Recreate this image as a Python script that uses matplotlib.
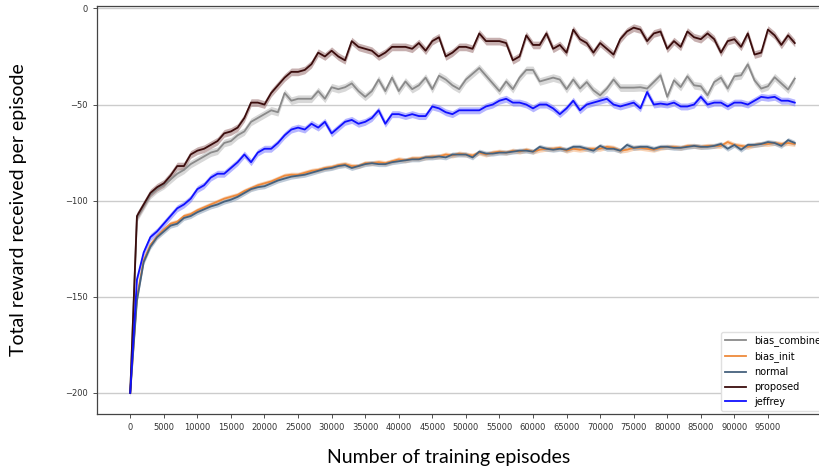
import numpy as np
import matplotlib
matplotlib.use('Agg')
import matplotlib.pyplot as plt

# training episodes, one point every 1000
episodes = np.arange(0, 100000, 1000)

proposed = [-200, -108, -102, -96, -93, -91, -87, -82, -82, -76,
            -74, -73, -71, -69, -65, -64, -62, -57, -49, -49,
            -50, -44, -40, -36, -33, -33, -32, -29, -23, -25,
            -22, -25, -27, -17, -20, -21, -22, -25, -23, -20,
            -20, -20, -21, -18, -22, -17, -15, -25, -23, -20,
            -20, -21, -13, -17, -17, -17, -18, -27, -25, -14,
            -19, -19, -13, -21, -19, -23, -11, -16, -18, -23,
            -18, -21, -24, -16, -12, -10, -11, -17, -13, -12,
            -21, -17, -20, -12, -15, -16, -13, -16, -23, -17,
            -16, -20, -13, -24, -23, -11, -14, -19, -14, -18]

bias_combine = [-200, -109, -103, -97, -94, -92, -89, -86, -84, -81,
                -79, -77, -75, -74, -70, -69, -66, -64, -59, -57,
                -55, -53, -54, -44, -48, -47, -47, -47, -43, -47,
                -41, -42, -41, -39, -43, -46, -43, -37, -43, -36,
                -43, -38, -42, -40, -36, -42, -35, -37, -40, -42,
                -37, -34, -31, -35, -39, -43, -38, -42, -36, -32,
                -32, -38, -37, -36, -37, -42, -37, -41.7, -38.3, -42.6,
                -45.2, -41.7, -37, -41.2, -41.2, -41.2, -41, -41.7, -38.3, -34.8,
                -46, -37.4, -40.9, -35.3, -40, -40.5, -45.2, -38.3, -36, -41.7,
                -35.3, -34.8, -29.1, -37.4, -41.7, -40.5, -35.8, -39, -42.2, -36.5]

jeffrey = [-200, -141, -127, -119, -116, -112, -108, -104, -102, -99,
           -94, -92, -88, -86, -86, -83, -80, -76, -80, -75,
           -73, -73, -70, -66, -63, -62, -63, -60, -62, -59,
           -65, -62, -59, -58, -60, -59, -57, -53, -60, -55,
           -55, -56, -55, -56, -56, -51, -52, -54, -55, -53,
           -53, -53, -53, -51, -50, -48, -47, -49, -49, -50,
           -52, -50, -50, -52, -55, -52, -48, -53, -50, -49,
           -48, -47, -50, -51, -50, -49, -52, -43.5, -50, -49.5,
           -50, -49, -51, -51, -50, -46, -50, -49, -49, -51,
           -49, -49, -50, -48, -46, -46.5, -46, -48, -48, -49]

normal = [-200, -152, -132, -124, -119, -116, -113, -112, -109, -108,
          -106, -104.5, -103, -102, -100.5, -99.5, -98, -96, -94, -93,
          -92.5, -91, -89.5, -88.5, -87.5, -87, -86.5, -85.5, -84.5, -83.5,
          -83, -82, -81.5, -83, -82, -81, -80.5, -81, -81, -80,
          -79.5, -79, -78.5, -78.5, -77.5, -77.5, -77, -77.5, -76, -76,
          -76, -77.5, -74.5, -75.5, -75.5, -75, -75, -74.5, -74, -74,
          -74.5, -72, -73, -73.5, -73, -73.5, -72, -72, -73, -74,
          -71.5, -73, -73, -74, -71, -72.5, -72, -72, -73, -72,
          -72, -72.5, -72.5, -72, -71.5, -72, -72, -71.5, -70.5, -73,
          -71, -73.5, -71, -71, -70.5, -69.5, -70, -71.5, -68.5, -70]

bias_init = [-200, -150, -131, -123, -118.5, -115, -112, -111, -108, -107,
             -105, -103.5, -102, -100.5, -99, -98, -97, -95, -93.5, -92,
             -91, -90, -88.5, -87, -86.5, -86.5, -85.5, -84.5, -84, -83,
             -82.5, -81.5, -81, -82, -82, -80.5, -80.5, -80, -80.5, -79.5,
             -78.5, -79, -78, -78, -77.5, -77, -77, -76, -76.5, -75.5,
             -76, -76.5, -75, -76, -75, -74.5, -75, -74, -74.5, -73.5,
             -74.5, -73.5, -73, -73, -72.5, -74, -73, -73.5, -73, -73,
             -73, -72, -72.5, -74, -73.5, -72.5, -72.5, -73, -73.5, -72.5,
             -72, -72, -72.5, -71.5, -71.5, -72, -71.5, -71.5, -71.5, -69.5,
             -71, -71.5, -72, -71, -70.5, -70.5, -70, -70.5, -70, -70.5]

labels = ['bias_combine', 'bias_init', 'normal', 'proposed', 'jeffrey']
band = [2.0, 1.3, 1.3, 2.0, 1.8]   # spread of the shaded area

series = [bias_combine, bias_init, normal, proposed, jeffrey]
colors = ['#8a8a8a', '#ee8a3c', '#45617d', '#3b0d0d', '#1010ff']
band_colors = ['#b8b8b8', '#f4b07a', '#8aa0b8', '#9a7070', '#7a7aff']

fig = plt.figure(figsize=(8.2, 4.71), dpi=100)
ax = fig.add_axes([97/820, 0.121, (828-97)/820, 0.866])

for y, lab, c, bc, s in zip(series, labels, colors, band_colors, band):
    y = np.array(y, dtype=float)
    ax.fill_between(episodes, y - s, y + s, color=bc, alpha=0.55, linewidth=0)
    ax.plot(episodes, y, color=c, linewidth=1.3, label=lab)

ax.set_xlim(-4950, 103950)
ax.set_ylim(-211, 1.2)
ax.set_xticks(np.arange(0, 100000, 5000))
ax.set_yticks([0, -50, -100, -150, -200])
ax.tick_params(labelsize=6, colors='#333333', length=3, width=0.6)
ax.yaxis.grid(True, color='#cccccc', linewidth=1)
ax.set_axisbelow(True)
for sp in ax.spines.values():
    sp.set_color('#444444')
    sp.set_linewidth(0.9)

ax.legend(loc='lower left', bbox_to_anchor=(0.879, 0.128), bbox_transform=fig.transFigure,
          borderaxespad=0, fontsize=7, handlelength=2.2, frameon=True, fancybox=True,
          framealpha=1, edgecolor='#e0e0e0')

fig.text(449/820, 1 - 457/471, 'Number of training episodes', family='Lato',
         fontsize=14, ha='center', va='center')
fig.text(19/820, 1 - 210/471, 'Total reward received per episode', family='Lato',
         fontsize=14, ha='center', va='center', rotation=90)

fig.savefig('out.png', dpi=100)
